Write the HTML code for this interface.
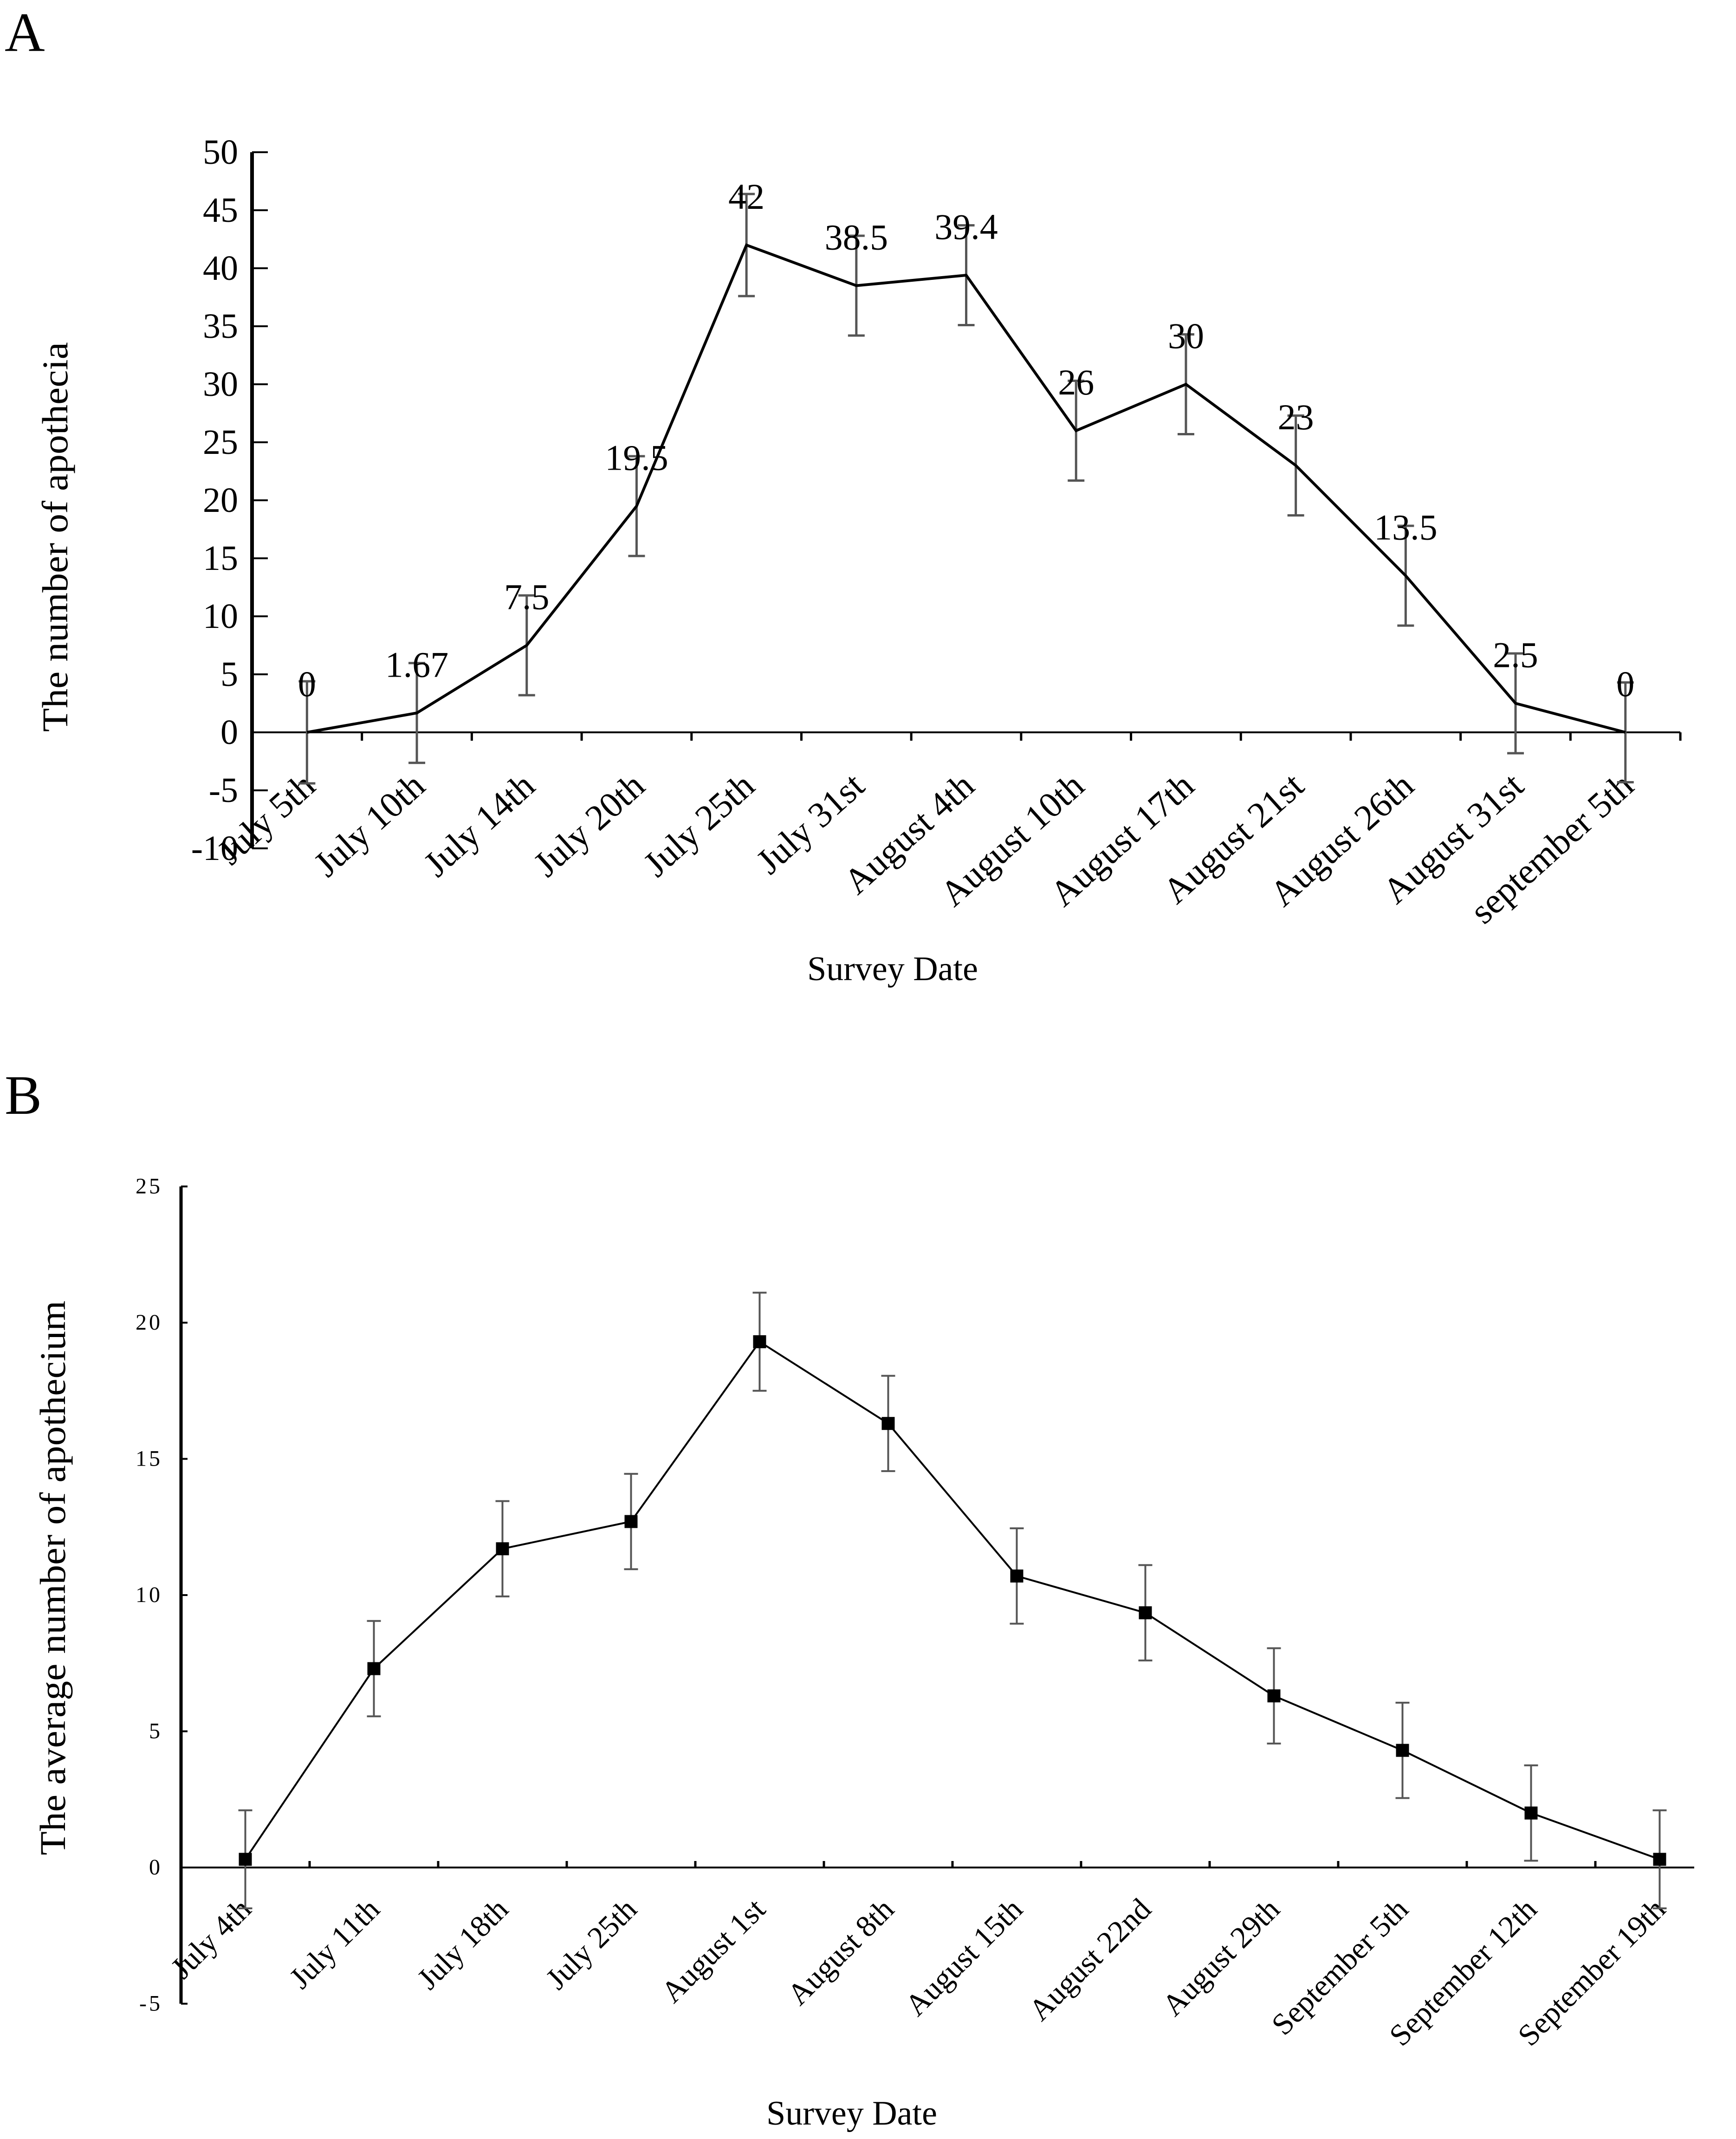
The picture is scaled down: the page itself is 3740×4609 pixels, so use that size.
<!DOCTYPE html>
<html><head><meta charset="utf-8"><style>
html,body{margin:0;padding:0;background:#fff}
svg{display:block;font-family:"Liberation Serif",serif}
</style></head><body>
<svg id="svg" width="3740" height="4609" viewBox="0 0 3740 4609" xmlns="http://www.w3.org/2000/svg">
<rect width="3740" height="4609" fill="#fff"/>
<text x="10" y="110" font-size="120">A</text>
<text x="10" y="2400" font-size="120">B</text>
<text transform="translate(145,1157) rotate(-90)" text-anchor="middle" font-size="78" textLength="840" lengthAdjust="spacingAndGlyphs">The number of apothecia</text>
<text x="1923" y="2112" text-anchor="middle" font-size="74">Survey Date</text>
<text transform="translate(140,3400) rotate(-90)" text-anchor="middle" font-size="78" textLength="1195" lengthAdjust="spacingAndGlyphs">The average number of apothecium</text>
<text x="1835" y="4578" text-anchor="middle" font-size="74">Survey Date</text>
<g id="ga"></g><g id="gb"></g>
</svg>
<script>
const catsA=["July 5th","July 10th","July 14th","July 20th","July 25th","July 31st","August 4th","August 10th","August 17th","August 21st","August 26th","August 31st","september 5th"];
const valsA=[0,1.67,7.5,19.5,42,38.5,39.4,26,30,23,13.5,2.5,0];
const errA=[4.4,4.3,4.3,4.3,4.4,4.3,4.3,4.3,4.3,4.3,4.3,4.3,4.3];
const labelsA=["0","1.67","7.5","19.5","42","38.5","39.4","26","30","23","13.5","2.5","0"];
const ticksA=[-10,-5,0,5,10,15,20,25,30,35,40,45,50];
const catsB=["July 4th","July 11th","July 18th","July 25th","August 1st","August 8th","August 15th","August 22nd","August 29th","September 5th","September 12th","September 19th"];
const valsB=[0.3,7.3,11.7,12.7,19.3,16.3,10.7,9.35,6.3,4.3,2.0,0.3];
const errB=[1.8,1.75,1.75,1.75,1.8,1.75,1.75,1.75,1.75,1.75,1.75,1.8];
const ticksB=[-5,0,5,10,15,20,25];
const NS="http://www.w3.org/2000/svg";
function mk(p,tag,attrs){const e=document.createElementNS(NS,tag);for(const k in attrs)e.setAttribute(k,attrs[k]);p.appendChild(e);return e;}
// Chart A
(function(){
const g=document.getElementById('ga');
const x0=543,band=236.7,y0=1578,ppu=25;
const X=i=>x0+band*(i+0.5), Y=v=>y0-v*ppu;
const xEnd=x0+band*catsA.length;
let e=mk(g,'line',{x1:x0,y1:Y(50),x2:x0,y2:Y(-10),stroke:'#000','stroke-width':8});

e=mk(g,'line',{x1:x0,y1:y0,x2:xEnd,y2:y0,stroke:'#000','stroke-width':4});

ticksA.forEach(t=>{
 e=mk(g,'line',{x1:x0,y1:Y(t),x2:x0+34,y2:Y(t),stroke:'#000','stroke-width':4});
 
 e=mk(g,'text',{x:x0-30,y:Y(t)+25,'text-anchor':'end','font-size':76});e.textContent=String(t);
 
});
for(let i=1;i<=catsA.length;i++){
 e=mk(g,'line',{x1:x0+band*i,y1:y0,x2:x0+band*i,y2:y0+18,stroke:'#000','stroke-width':5});
 
}
catsA.forEach((c,i)=>{
 e=mk(g,'text',{transform:`translate(${X(i)+22},${y0+122}) rotate(-42)`,'text-anchor':'end','font-size':78});e.textContent=c;
 
});
valsA.forEach((v,i)=>{
 const x=X(i);
 e=mk(g,'path',{d:`M${x},${Y(v+errA[i])}V${Y(v-errA[i])}M${x-18},${Y(v+errA[i])}H${x+18}M${x-18},${Y(v-errA[i])}H${x+18}`,stroke:'#555','stroke-width':5,fill:'none'});
 
});
e=mk(g,'polyline',{points:valsA.map((v,i)=>X(i)+','+Y(v)).join(' '),fill:'none',stroke:'#000','stroke-width':6,'stroke-linejoin':'miter'});

valsA.forEach((v,i)=>{
 e=mk(g,'text',{x:X(i),y:Y(v)-78,'text-anchor':'middle','font-size':78});e.textContent=labelsA[i];
 
});
})();
// Chart B
(function(){
const g=document.getElementById('gb');
const x0=390,band=277,y0=4024,ppu=58.7;
const X=i=>x0+band*(i+0.5), Y=v=>y0-v*ppu;
const xEnd=3650;
let e=mk(g,'line',{x1:x0,y1:Y(25),x2:x0,y2:Y(-5),stroke:'#000','stroke-width':7});

e=mk(g,'line',{x1:x0,y1:y0,x2:xEnd,y2:y0,stroke:'#000','stroke-width':4});

ticksB.forEach(t=>{
 e=mk(g,'line',{x1:x0,y1:Y(t),x2:x0+14,y2:Y(t),stroke:'#000','stroke-width':4});
 
 e=mk(g,'text',{x:x0-40,y:Y(t)+15,'text-anchor':'end','font-size':48,'letter-spacing':'5'});e.textContent=String(t);
 
});
for(let i=1;i<catsB.length;i++){
 e=mk(g,'line',{x1:x0+band*i,y1:y0,x2:x0+band*i,y2:y0-14,stroke:'#000','stroke-width':5});
 
}
catsB.forEach((c,i)=>{
 e=mk(g,'text',{transform:`translate(${X(i)+16},${y0+94}) rotate(-45)`,'text-anchor':'end','font-size':66});e.textContent=c;
 
});
valsB.forEach((v,i)=>{
 const x=X(i);
 e=mk(g,'path',{d:`M${x},${Y(v+errB[i])}V${Y(v-errB[i])}M${x-15},${Y(v+errB[i])}H${x+15}M${x-15},${Y(v-errB[i])}H${x+15}`,stroke:'#555','stroke-width':4,fill:'none'});
 
});
e=mk(g,'polyline',{points:valsB.map((v,i)=>X(i)+','+Y(v)).join(' '),fill:'none',stroke:'#000','stroke-width':4});

valsB.forEach((v,i)=>{
 e=mk(g,'rect',{x:X(i)-14,y:Y(v)-14,width:28,height:28,fill:'#000'});
 
});
})();
</script>
</body></html>
